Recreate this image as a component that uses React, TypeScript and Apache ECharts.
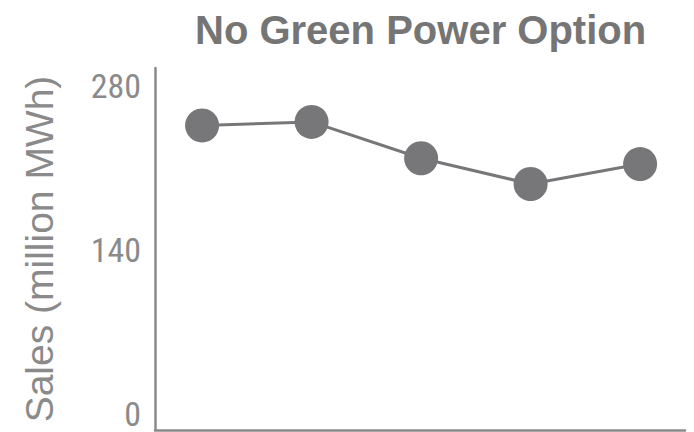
import React, { useEffect, useRef } from "react";
import * as echarts from "echarts";

// Annual sales, million MWh, for the five points on the chart
const salesValues = [246, 249, 218, 196, 213];
const yTickValues = [0, 140, 280];
const titleText = "No Green Power Option";
const yAxisName = "Sales (million MWh)";

const GREY = "#77777a";
const LABEL_GREY = "#8a8a8a";
const FONT = "'Liberation Sans', Arial, Helvetica, sans-serif";
const NARROW_FONT = "'Liberation Sans Narrow', 'Arial Narrow', 'Roboto Condensed', 'Liberation Sans', sans-serif";

export default function App() {
  const ref = useRef<HTMLDivElement>(null);

  useEffect(() => {
    if (!ref.current) return;
    const chart = echarts.init(ref.current, undefined, { renderer: "svg" });
    chart.setOption({
      animation: false,
      backgroundColor: "#ffffff",
      title: {
        text: titleText,
        left: 190,
        top: 5,
        textStyle: {
          fontFamily: FONT,
          fontSize: 40,
          fontWeight: "bold",
          color: "#757575",
        },
      },
      grid: { left: 155, right: 9, top: 68, bottom: 2, containLabel: false },
      xAxis: {
        type: "value",
        min: -0.43,
        max: 4.41,
        axisLine: { show: true, onZero: false, lineStyle: { color: "#8a8a8a", width: 2.5 } },
        axisTick: { show: false },
        axisLabel: { show: false },
        splitLine: { show: false },
      },
      yAxis: {
        type: "value",
        min: -14,
        max: 295,
        name: yAxisName,
        nameLocation: "middle",
        nameRotate: 90,
        nameGap: 96,
        nameTextStyle: { fontFamily: FONT, fontSize: 39, color: LABEL_GREY },
        axisLine: { show: true, onZero: false, lineStyle: { color: "#8a8a8a", width: 2.5 } },
        axisTick: { show: false },
        splitLine: { show: false },
        axisLabel: {
          customValues: yTickValues,
          fontFamily: NARROW_FONT,
          fontSize: 34,
          lineHeight: 28,
          padding: [0, 0, 2, 0],
          color: LABEL_GREY,
          margin: 14,
        },
      },
      series: [
        {
          type: "line",
          data: salesValues.map((v, i) => [i, v]),
          symbol: "circle",
          symbolSize: 34,
          lineStyle: { color: GREY, width: 3 },
          itemStyle: { color: GREY },
        },
      ],
    });
    return () => chart.dispose();
  }, []);

  return <div ref={ref} style={{ width: 694, height: 432, position: "absolute", left: 0, top: 0 }} />;
}
